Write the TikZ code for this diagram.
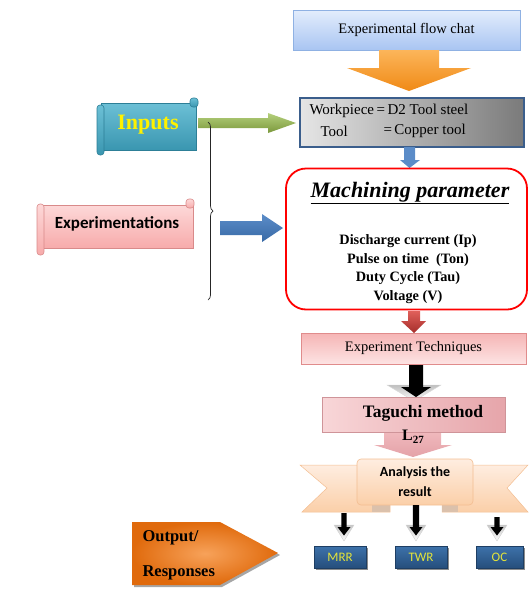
\documentclass[tikz,border=0pt]{standalone}
\usepackage{fontspec}
\setmainfont{Liberation Serif}
\newfontfamily\carl{Carlito}
\usetikzlibrary{decorations.pathreplacing}
\definecolor{topL}{HTML}{E3EDFC}
\definecolor{topD}{HTML}{A9C5F2}
\definecolor{topB}{HTML}{8FB1E3}
\definecolor{orL}{HTML}{FCB55A}
\definecolor{orD}{HTML}{F08A16}
\definecolor{wpB}{HTML}{3B5E8C}
\definecolor{blA}{HTML}{5B8CC8}
\definecolor{blD}{HTML}{386AA6}
\definecolor{rdL}{HTML}{E0605A}
\definecolor{rdD}{HTML}{A52E2B}
\definecolor{pkL}{HTML}{FDE3E3}
\definecolor{pkD}{HTML}{F5B5B5}
\definecolor{pkB}{HTML}{E08C8C}
\definecolor{tgL}{HTML}{F8D6D8}
\definecolor{tgD}{HTML}{E6A5AA}
\definecolor{paL}{HTML}{F2BCC0}
\definecolor{paD}{HTML}{E4A2A8}
\definecolor{peL}{HTML}{FEEDE0}
\definecolor{peD}{HTML}{FBCFA8}
\definecolor{peB}{HTML}{F3BE92}
\definecolor{rbL}{HTML}{3D72AA}
\definecolor{rbD}{HTML}{264E7C}
\definecolor{rbT}{HTML}{E4E43A}
\definecolor{ouL}{HTML}{F7A25A}
\definecolor{ouD}{HTML}{E06A0C}
\definecolor{inL}{HTML}{6CC0D6}
\definecolor{inD}{HTML}{3A96B0}
\definecolor{inB}{HTML}{2D7F97}
\definecolor{grL}{HTML}{B5D07C}
\definecolor{grD}{HTML}{7A983C}
\definecolor{exL}{HTML}{FDD8D8}
\definecolor{exD}{HTML}{F7ABAB}
\definecolor{exB}{HTML}{D98A8A}
\tikzset{
  serif14/.style={font=\fontsize{14.5}{17}\selectfont},
}
\begin{document}
\begin{tikzpicture}[x=1pt,y=-1pt]
\useasboundingbox (0,0) rectangle (528,595);

% ---- top title box
\node[draw=topB, line width=0.8pt, top color=topL, bottom color=topD,
      minimum width=227pt, minimum height=40pt, serif14] (title) at (406.5,30) {Experimental flow chat};

% ---- orange arrow
\shade[top color=orL, bottom color=orD]
  (379,50) -- (439,50) -- (439,68) -- (471,68) -- (409,91) -- (347,68) -- (379,68) -- cycle;

% ---- workpiece box
\node[draw=wpB, line width=2pt, left color=black!10, right color=black!52,
      minimum width=224pt, minimum height=49pt] (work) at (411.5,122) {};
\node[font=\fontsize{15}{18}\selectfont, anchor=west] (w1) at (306,111) {Workpiece\,=\,D2 Tool steel};
\node[font=\fontsize{15}{18}\selectfont, anchor=west] (w2a) at (317,131) {Tool};
\node[font=\fontsize{15}{18}\selectfont, anchor=west] (w2b) at (380,131) {=\,Copper tool};

% ---- small blue arrow
\fill[blA] (404,147) -- (415,147) -- (415,160) -- (420,160) -- (409.5,168) -- (400,160) -- (404,160) -- cycle;

% ---- machining parameter box
\node[draw=red, line width=1.8pt, fill=white, rounded corners=20pt,
      minimum width=241pt, minimum height=141pt] (mach) at (406.5,239) {};
\node[font=\fontsize{22}{26}\selectfont\bfseries\itshape] (machT) at (410,193) {\underline{Machining parameter}};
\node[font=\fontsize{14.3}{18.7}\selectfont\bfseries, align=center] (params) at (408,269)
  {Discharge current (Ip)\\Pulse on time~ (Ton)\\Duty Cycle (Tau)\\Voltage (V)};

% ---- red arrow
\shade[top color=rdL, bottom color=rdD]
  (408,311) -- (420,311) -- (420,321) -- (426,321) -- (414,333) -- (401,321) -- (408,321) -- cycle;

% ---- experiment techniques
\node[draw=pkB, line width=0.6pt, top color=pkD, bottom color=pkL,
      minimum width=225pt, minimum height=31pt, serif14] (tech) at (413.5,348.5) {Experiment Techniques};

% ---- black arrow with halo
\shade[top color=black!25, bottom color=white, draw=black!15]
  (387,385) -- (441,385) -- (414,401) -- cycle;
\fill[black] (409,365) -- (423,365) -- (423,387) -- (431,387) -- (416,397) -- (401,387) -- (409,387) -- cycle;

% ---- pink arrow below Taguchi
\shade[top color=paL, bottom color=paD]
  (384,428) -- (441,428) -- (441,445) -- (452,445) -- (413,457) -- (374,445) -- (384,445) -- cycle;

% ---- Taguchi box
\node[draw=tgD!90!black, line width=0.5pt, left color=tgL, right color=tgD,
      minimum width=183pt, minimum height=35pt] (tag) at (413.5,414.5) {};
\node[font=\fontsize{17.5}{21}\selectfont\bfseries] (tagT) at (423,413) {Taguchi method};
\node[font=\fontsize{16}{19}\selectfont\bfseries] (L27) at (413,437) {L\raisebox{-3pt}{\fontsize{11}{13}\selectfont 27}};

% ---- analysis ribbon
\shade[top color=peL, bottom color=peD, draw=peB, line width=0.5pt]
  (300,465) -- (390,465) -- (390,512) -- (302,512) -- (327,488) -- cycle;
\shade[top color=peL, bottom color=peD, draw=peB, line width=0.5pt]
  (442,465) -- (528,465) -- (507,488) -- (528,512) -- (442,512) -- cycle;
\fill[peB!80!black!60] (372,505) -- (390,505) -- (390,512) -- (372,512) -- cycle;
\fill[peB!80!black!60] (442,505) -- (458,505) -- (458,512) -- (442,512) -- cycle;
\node[draw=peB, line width=0.6pt, rounded corners=4pt, top color=peL, bottom color=peD,
      minimum width=116pt, minimum height=46pt] (anal) at (415,482) {};
\node[font=\carl\fontsize{14}{20}\selectfont\bfseries, align=center] (analT) at (415,482) {Analysis the\\result};

% ---- small down arrows
\foreach \cx/\yt/\hw in {344/513/2.6, 416/505/3.2, 497/517/2.6}{
  \shade[top color=black!22, bottom color=white, draw=black!18]
    (\cx-10,525) -- (\cx+10,525) -- (\cx,541) -- cycle;
  \fill[black] (\cx-\hw,\yt) -- (\cx+\hw,\yt) -- (\cx+\hw,527) -- (\cx+6.5,527) -- (\cx,535.5) -- (\cx-6.5,527) -- (\cx-\hw,527) -- cycle;
}

% ---- result boxes
\tikzset{resbox/.style={draw=rbD!80!black, line width=0.6pt, top color=rbL, bottom color=rbD,
      minimum height=22pt, text=rbT, font=\carl\fontsize{13}{15}\selectfont}}
\fill[black!45] (316,548) rectangle (368,570);
\fill[black!45] (397,548) rectangle (449,570);
\fill[black!45] (478,548) rectangle (525,570);
\node[resbox, minimum width=52pt] (mrr) at (340,557) {MRR};
\node[resbox, minimum width=52pt] (twr) at (421,557) {TWR};
\node[resbox, minimum width=47pt] (oc) at (499.5,557) {OC};

% ---- output pentagon
\fill[black!35] (134,524) -- (222,524) -- (280,555) -- (222,587) -- (134,587) -- cycle;
\shade[inner color=ouL, outer color=ouD]
  (132,522) -- (220,522) -- (278,553) -- (220,585) -- (132,585) -- cycle;
\node[font=\fontsize{16.5}{19}\selectfont\bfseries, anchor=west] (out1) at (139,538) {Output/};
\node[font=\fontsize{16.5}{19}\selectfont\bfseries, anchor=west] (out2) at (139,573) {Responses};

% ---- Inputs scroll
\shade[top color=inL, bottom color=inD, draw=inB, line width=0.6pt]
  (101,103) rectangle (196,150);
\shade[top color=inL, bottom color=inD, draw=inB, line width=0.6pt, rounded corners=3pt]
  (97,105) rectangle (104,155);
\shade[top color=inL, bottom color=inD, draw=inB, line width=0.6pt, rounded corners=3pt]
  (190,98) rectangle (198,107);
\node[font=\fontsize{22}{26}\selectfont\bfseries, text=yellow] (inputs) at (148,125) {Inputs};

% ---- green arrow
\shade[top color=grL, bottom color=grD]
  (198,118) -- (268,118) -- (268,113) -- (296,123) -- (268,133) -- (268,128) -- (198,128) -- cycle;

% ---- brace
\draw[black!85, line width=0.7pt, decorate, decoration={brace, amplitude=5pt}] (208,122) -- (208,300);

% ---- Experimentations scroll
\shade[top color=exL, bottom color=exD, draw=exB, line width=0.6pt]
  (41,205) rectangle (193,248);
\shade[top color=exL, bottom color=exD, draw=exB, line width=0.6pt, rounded corners=3pt]
  (37,204) rectangle (44,255);
\shade[top color=exL, bottom color=exD, draw=exB, line width=0.6pt, rounded corners=3pt]
  (186,199) rectangle (194,208);
\node[font=\carl\fontsize{17}{20}\selectfont\bfseries] (expts) at (117,224) {Experimentations};

% ---- big blue arrow
\shade[top color=blA, bottom color=blD]
  (220,221) -- (262,221) -- (262,214) -- (283,228) -- (262,242) -- (262,235) -- (220,235) -- cycle;

\end{tikzpicture}
\end{document}
